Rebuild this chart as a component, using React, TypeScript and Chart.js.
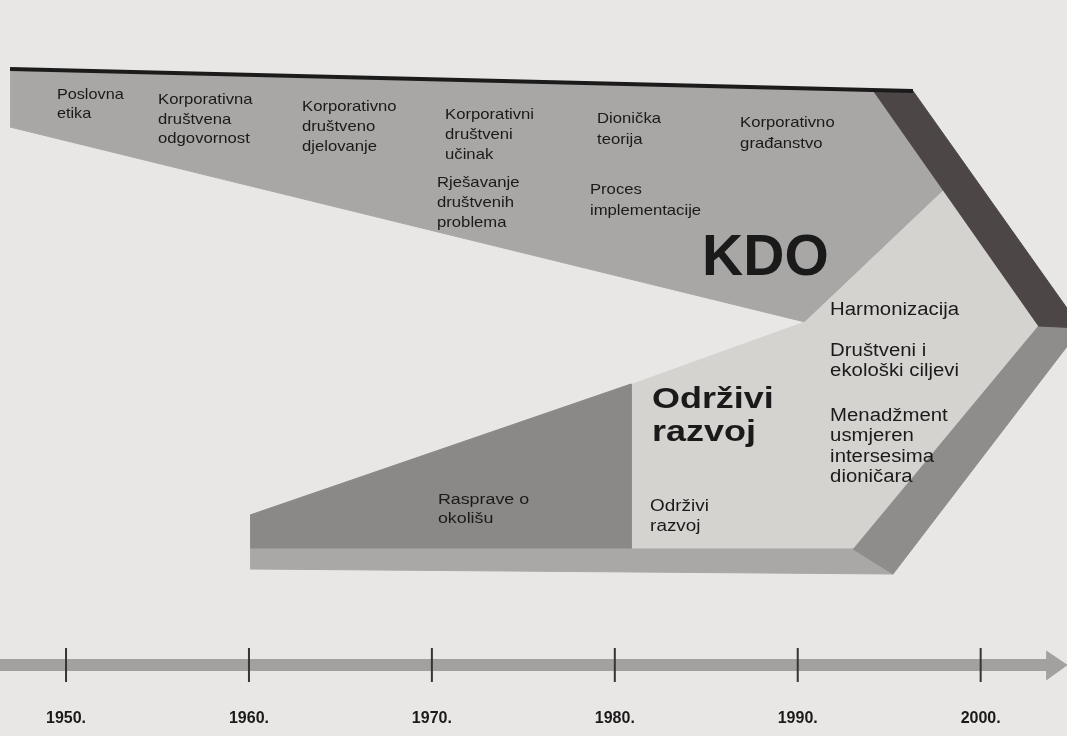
import React, { useEffect, useRef } from 'react';
import { Chart, registerables } from 'chart.js';

Chart.register(...registerables);

// Horizontal axis: years. Vertical axis: diagram level (0 = bottom, 100 = top).
const X_MIN = 1946.39;
const X_MAX = 2004.72;

const yearTicks = [1950, 1960, 1970, 1980, 1990, 2000];
const yearLabels = ['1950.', '1960.', '1970.', '1980.', '1990.', '2000.'];
const timelineLevel = 9.65;
const yearLabelLevel = 2.31;

// Shapes as [year, level] vertices
const kdoBand = [[1946.94, 90.35], [1994.12, 87.64], [1998.0, 74.18], [1990.4, 56.25], [1946.94, 82.74]];
const kdoTopRule = [[1946.94, 90.63], [1996.3, 87.64]];
const upperChevron = [[1994.12, 87.64], [1996.3, 87.64], [2005.49, 55.43], [2003.14, 55.71]];
const innerField = [[1980.83, 47.69], [1990.4, 56.25], [1998.0, 74.18], [2003.14, 55.71], [1993.02, 25.41], [1980.83, 25.41]];
const envDebate = [[1960.06, 30.03], [1980.89, 47.83], [1980.89, 25.41], [1960.06, 25.41]];
const baseStrip = [[1960.06, 25.41], [1993.02, 25.41], [1995.21, 22.01], [1960.06, 22.69]];
const lowerChevron = [[2003.14, 55.71], [2005.49, 55.43], [1995.21, 22.01], [1993.02, 25.41]];
const timeline = [[1946.39, timelineLevel], [2003.68, timelineLevel]];
const arrowHead = [[2003.58, 11.55], [2004.72, timelineLevel], [2003.58, 7.61]];

const PAPER = '#e8e7e5';
const FONT = '"Liberation Sans", Arial, Helvetica, sans-serif';

type Note = { x: number; y: number; lines: string[]; size: number; sx: number; lh: number; bold?: boolean };

const notes: Note[] = [
  { x: 1949.5, y: 87.09, lines: ['Poslovna', 'etika'], size: 14.5, sx: 1.12, lh: 19 },
  { x: 1955.03, y: 86.41, lines: ['Korporativna', 'društvena', 'odgovornost'], size: 14.5, sx: 1.15, lh: 19.5 },
  { x: 1962.9, y: 85.46, lines: ['Korporativno', 'društveno', 'djelovanje'], size: 14.5, sx: 1.15, lh: 20 },
  { x: 1970.72, y: 84.38, lines: ['Korporativni', 'društveni', 'učinak'], size: 14.5, sx: 1.15, lh: 20 },
  { x: 1970.28, y: 75.14, lines: ['Rješavanje', 'društvenih', 'problema'], size: 14.5, sx: 1.15, lh: 20 },
  { x: 1979.03, y: 83.83, lines: ['Dionička', 'teorija'], size: 14.5, sx: 1.15, lh: 20.5 },
  { x: 1978.64, y: 74.18, lines: ['Proces', 'implementacije'], size: 14.5, sx: 1.15, lh: 21 },
  { x: 1986.85, y: 83.29, lines: ['Korporativno', 'građanstvo'], size: 14.5, sx: 1.15, lh: 21 },
  { x: 1984.77, y: 64.74, lines: ['KDO'], size: 57, sx: 1.0, lh: 60, bold: true },
  { x: 1991.77, y: 57.88, lines: ['Harmonizacija'], size: 18, sx: 1.13, lh: 20.5 },
  { x: 1991.77, y: 52.31, lines: ['Društveni i', 'ekološki ciljevi'], size: 18, sx: 1.13, lh: 20.5 },
  { x: 1991.77, y: 43.48, lines: ['Menadžment', 'usmjeren', 'intersesima', 'dioničara'], size: 18, sx: 1.13, lh: 20.5 },
  { x: 1982.03, y: 45.65, lines: ['Održivi', 'razvoj'], size: 29, sx: 1.24, lh: 33, bold: true },
  { x: 1981.93, y: 31.11, lines: ['Održivi', 'razvoj'], size: 16, sx: 1.18, lh: 20 },
  { x: 1970.33, y: 32.07, lines: ['Rasprave o', 'okolišu'], size: 15.5, sx: 1.15, lh: 18.5 },
];

const toPts = (arr: number[][]) => arr.map(([x, y]) => ({ x, y }));

const poly = (arr: number[][], color: string, order: number) => ({
  data: toPts(arr),
  backgroundColor: color,
  borderColor: color,
  borderWidth: 1,
  fill: 'shape',
  pointRadius: 0,
  order,
});

const paperPlugin = {
  id: 'paper',
  beforeDraw(chart: any) {
    const { ctx, width, height } = chart;
    ctx.save();
    ctx.fillStyle = PAPER;
    ctx.fillRect(0, 0, width, height);
    ctx.restore();
  },
};

const notesPlugin = {
  id: 'notes',
  afterDatasetsDraw(chart: any) {
    const xs = chart.scales.x;
    const ys = chart.scales.y;
    const ctx = chart.ctx;
    ctx.save();
    ctx.textBaseline = 'middle';
    ctx.fillStyle = '#1b1a1a';
    for (const n of notes) {
      const px = xs.getPixelForValue(n.x);
      const py = ys.getPixelForValue(n.y);
      ctx.font = `${n.bold ? 'bold ' : ''}${n.size}px ${FONT}`;
      ctx.textAlign = 'left';
      n.lines.forEach((t, i) => {
        ctx.save();
        ctx.translate(px, py + i * n.lh);
        ctx.scale(n.sx, 1);
        ctx.fillText(t, 0, 0);
        ctx.restore();
      });
    }
    ctx.font = `bold 16px ${FONT}`;
    ctx.textAlign = 'center';
    yearTicks.forEach((yr, i) => {
      ctx.fillText(yearLabels[i], xs.getPixelForValue(yr), ys.getPixelForValue(yearLabelLevel));
    });
    ctx.restore();
  },
};

export default function App() {
  const ref = useRef<HTMLCanvasElement>(null);
  useEffect(() => {
    document.body.style.margin = '0';
    const datasets: any[] = [
      {
        data: yearTicks.map((x) => ({ x, y: timelineLevel })),
        showLine: false,
        pointStyle: 'line',
        pointRadius: 17,
        pointRotation: 90,
        pointBorderColor: '#363434',
        pointBorderWidth: 2,
        pointBackgroundColor: '#363434',
        order: 1,
      },
      {
        data: toPts(timeline),
        borderColor: '#a3a19f',
        borderWidth: 12,
        borderCapStyle: 'butt',
        pointRadius: 0,
        fill: false,
        order: 2,
      },
      poly(arrowHead, '#a3a19f', 2),
      {
        data: toPts(kdoTopRule),
        borderColor: '#1c1b1b',
        borderWidth: 4,
        pointRadius: 0,
        fill: false,
        order: 3,
      },
      poly(upperChevron, '#4c4646', 4),
      poly(lowerChevron, '#8f8d8b', 5),
      poly(baseStrip, '#a9a8a6', 6),
      poly(envDebate, '#8b8987', 7),
      poly(innerField, '#d5d3d0', 8),
      poly(kdoBand, '#a8a7a5', 9),
    ];
    const chart = new Chart(ref.current!, {
      type: 'line',
      data: { datasets },
      options: {
        animation: false,
        responsive: true,
        maintainAspectRatio: false,
        events: [],
        layout: { padding: 0, autoPadding: false },
        plugins: { legend: { display: false }, tooltip: { enabled: false } },
        scales: {
          x: { type: 'linear', min: X_MIN, max: X_MAX, display: false },
          y: { type: 'linear', min: 0, max: 100, display: false },
        },
      },
      plugins: [paperPlugin, notesPlugin],
    } as any);
    return () => chart.destroy();
  }, []);
  return (
    <div style={{ width: 1067, height: 736, position: 'relative' }}>
      <canvas ref={ref} />
    </div>
  );
}
